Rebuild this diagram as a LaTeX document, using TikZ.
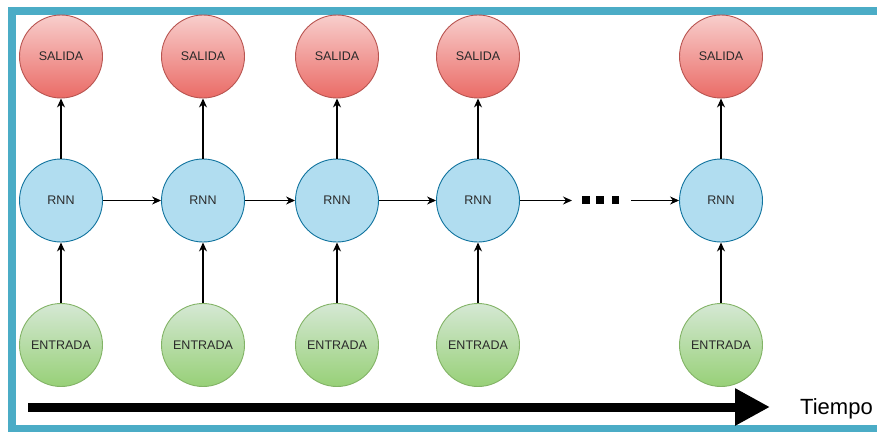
\documentclass[tikz,border=0pt]{standalone}
\usepackage{fontspec}
\setmainfont{Liberation Sans}
\usetikzlibrary{arrows.meta}

\definecolor{frameblue}{HTML}{4BACC6}
\definecolor{outtop}{HTML}{F8CECC}
\definecolor{outbot}{HTML}{EA6B66}
\definecolor{outline}{HTML}{B85450}
\definecolor{rnnfill}{HTML}{B1DDF0}
\definecolor{rnnline}{HTML}{10739E}
\definecolor{intop}{HTML}{D5E8D4}
\definecolor{inbot}{HTML}{97D077}
\definecolor{inline}{HTML}{82B366}
\definecolor{labeltext}{HTML}{2A2A2A}

\tikzset{
  unit/.style={circle, minimum size=83pt, inner sep=0pt, line width=0.9pt,
    text=labeltext, font=\fontsize{12.5}{14}\selectfont},
  outnode/.style={unit, draw=outline, top color=outtop, bottom color=outbot},
  rnnnode/.style={unit, draw=rnnline, fill=rnnfill},
  innode/.style={unit, draw=inline, top color=intop, bottom color=inbot},
  link/.style={line width=1.2pt, -{Stealth[length=9pt,width=8pt]}},
  dotsq/.style={rectangle, fill=black, minimum size=7.5pt, inner sep=0pt},
}

\begin{document}
\begin{tikzpicture}[x=1pt, y=-1pt]
  \useasboundingbox (0,0) rectangle (877,431);

  % outer frame
  \begin{scope}
    \clip (0,0) rectangle (877,431);
    \draw[frameblue, line width=8pt] (12,11) rectangle (885,429);
  \end{scope}

  % unrolled cells
  \foreach \i/\x in {1/61, 2/203, 3/337, 4/478, 5/721} {
    \node[outnode] (out\i) at (\x,56.5) {SALIDA};
    \node[rnnnode] (rnn\i) at (\x,200.5) {RNN};
    \node[innode]  (in\i)  at (\x,345) {ENTRADA};
    \draw[link] (in\i) -- (rnn\i);
    \draw[link] (rnn\i) -- (out\i);
  }

  % recurrent links
  \draw[link] (rnn1) -- (rnn2);
  \draw[link] (rnn2) -- (rnn3);
  \draw[link] (rnn3) -- (rnn4);

  % ellipsis
  \node[dotsq] (d1) at (586,200) {};
  \node[dotsq] (d2) at (600,200) {};
  \node[dotsq] (d3) at (615.5,200) {};
  \coordinate (dotsin) at (572,200.5);
  \coordinate (dotsout) at (631,200.5);
  \draw[link] (rnn4) -- (dotsin);
  \draw[link] (dotsout) -- (rnn5);

  % time axis
  \coordinate (t0) at (28,407);
  \coordinate (t1) at (770,407);
  \draw[line width=9pt, -{Triangle[length=35pt,width=35pt]}] (t0) -- (t1);
  \node[anchor=base west, font=\fontsize{22}{26}\selectfont, inner sep=0pt] (tiempo) at (800,414.5) {Tiempo};
\end{tikzpicture}
\end{document}
